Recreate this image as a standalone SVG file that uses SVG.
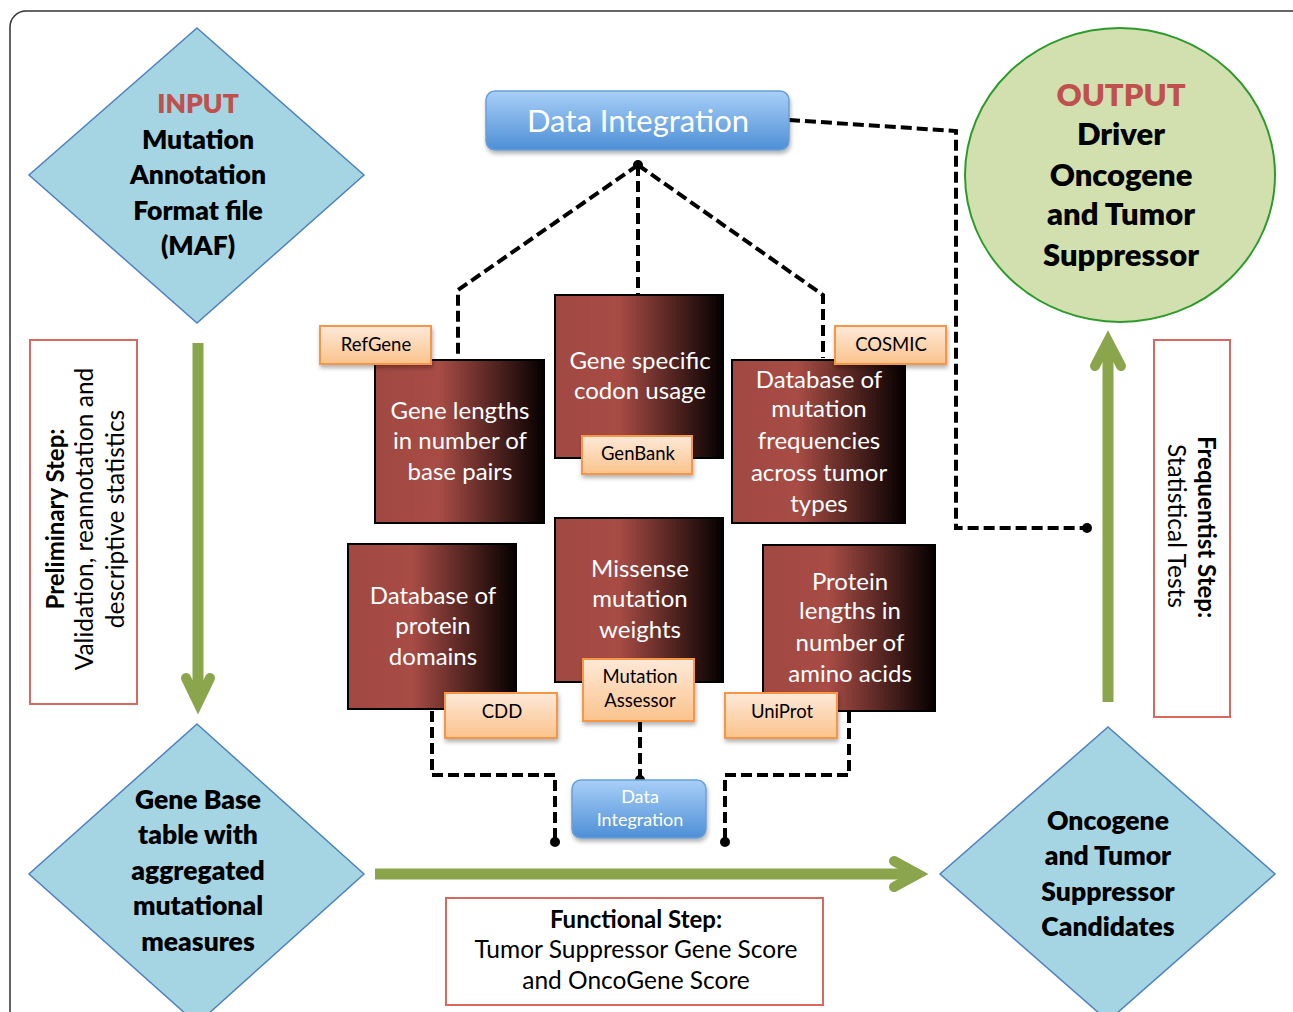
<svg xmlns="http://www.w3.org/2000/svg" width="1293" height="1012" viewBox="0 0 1293 1012">
<defs>
<linearGradient id="brown" x1="0" y1="0" x2="1" y2="0">
<stop offset="0" stop-color="#a04842"/>
<stop offset="0.38" stop-color="#a84c45"/>
<stop offset="1" stop-color="#050000"/>
</linearGradient>
<linearGradient id="blue" x1="0" y1="0" x2="0" y2="1">
<stop offset="0" stop-color="#a8cff8"/>
<stop offset="1" stop-color="#4e8fd6"/>
</linearGradient>
<linearGradient id="peach" x1="0" y1="0" x2="0" y2="1">
<stop offset="0" stop-color="#fde9d8"/>
<stop offset="1" stop-color="#fbc38c"/>
</linearGradient>
<filter id="shadow" x="-10%" y="-10%" width="130%" height="140%">
<feDropShadow dx="1" dy="3" stdDeviation="2" flood-color="#000" flood-opacity="0.3"/>
</filter>
</defs>
<style>
.diamond{fill:#a5d5e3;stroke:#4f81bd;stroke-width:1.5}
.bt{font-family:Lato,"Open Sans",sans-serif;font-weight:800;font-size:26.5px;fill:#000;text-anchor:middle}
.ct{font-size:31px}
.red{fill:#c0504d}
.brownbox{fill:url(#brown);stroke:#000;stroke-width:2}
.wt{font-family:Lato,"Open Sans",sans-serif;font-size:24px;fill:#fff;text-anchor:middle}
.lbl{fill:url(#peach);stroke:#f79646;stroke-width:2;filter:url(#shadow)}
.lt{font-family:Lato,"Open Sans",sans-serif;font-size:18.5px;fill:#000;text-anchor:middle}
.bluebox{fill:url(#blue);stroke:#6a9fd8;stroke-width:1.5;filter:url(#shadow)}
.it{font-family:Lato,"Open Sans",sans-serif;fill:#fff;text-anchor:middle}
.dash{fill:none;stroke:#000;stroke-width:4;stroke-dasharray:11 5}
.green{fill:none;stroke:#8aa54b;stroke-width:11}
.chev{fill:none;stroke:#8aa54b;stroke-width:10;stroke-linecap:round;stroke-linejoin:miter}
.redbox{fill:#fff;stroke:#d9685f;stroke-width:2}
.st{font-family:Lato,"Open Sans",sans-serif;font-size:24.5px;fill:#000;text-anchor:middle}
.stb{font-family:Lato,"Open Sans",sans-serif;font-size:24px;font-weight:bold;fill:#000;text-anchor:middle}
</style>
<rect x="10" y="11" width="1300" height="1030" rx="16" fill="#fff" stroke="#333" stroke-width="1.5"/>

<g id="connectors">
<path class="dash" d="M638,165 L458,290 L458,356"/>
<path class="dash" d="M638,165 L638,295"/>
<path class="dash" d="M638,165 L823,295 L823,358"/>
<path class="dash" d="M789,120 L956,131 L956,528 L1087,528"/>
<path class="dash" d="M432,711 L432,775 L555,775 L555,842"/>
<path class="dash" d="M640,721 L640,780"/>
<path class="dash" d="M849,712 L849,775 L725,775 L725,842"/>
<circle cx="638" cy="165" r="5"/>
<circle cx="1087" cy="528" r="5"/>
<circle cx="640" cy="780" r="5"/>
<circle cx="555" cy="842" r="5"/>
<circle cx="725" cy="842" r="5"/>
<line class="green" x1="198" y1="343" x2="198" y2="700"/>
<polyline class="chev" points="186,678 198,703 210,678"/>
<line class="green" x1="1108" y1="702" x2="1108" y2="345"/>
<polyline class="chev" points="1095,366 1108,341 1121,366"/>
<line class="green" x1="375" y1="874" x2="914" y2="874"/>
<polyline class="chev" points="894,861 918,874 894,887"/>
</g>

<g id="input">
<polygon class="diamond" points="197,28 364,175 197,323 29,175"/>
<text class="bt red" x="198" y="113">INPUT</text>
<text class="bt" x="198" y="149">Mutation</text>
<text class="bt" x="198" y="184">Annotation</text>
<text class="bt" x="198" y="220">Format file</text>
<text class="bt" x="198" y="255">(MAF)</text>
</g>

<g id="data-integration">
<rect class="bluebox" x="486" y="91" width="303" height="59" rx="9"/>
<text class="it" x="638" y="132" font-size="31">Data Integration</text>
</g>

<g id="output">
<ellipse cx="1120" cy="175" rx="155" ry="147" fill="#d1e0ae" stroke="#2e9a2e" stroke-width="2"/>
<text class="bt ct red" x="1121" y="106">OUTPUT</text>
<text class="bt ct" x="1121" y="145">Driver</text>
<text class="bt ct" x="1121" y="186">Oncogene</text>
<text class="bt ct" x="1121" y="225">and Tumor</text>
<text class="bt ct" x="1121" y="266">Suppressor</text>
</g>

<g id="gene-lengths">
<rect class="brownbox" x="375" y="360" width="169" height="163"/>
<text class="wt" x="460" y="419">Gene lengths</text>
<text class="wt" x="460" y="449">in number of</text>
<text class="wt" x="460" y="480">base pairs</text>
</g>
<g id="codon-usage">
<rect class="brownbox" x="555" y="295" width="168" height="163"/>
<text class="wt" x="640" y="369">Gene specific</text>
<text class="wt" x="640" y="399">codon usage</text>
</g>
<g id="mutation-frequencies">
<rect class="brownbox" x="732" y="360" width="173" height="163"/>
<text class="wt" x="819" y="388">Database of</text>
<text class="wt" x="819" y="417">mutation</text>
<text class="wt" x="819" y="449">frequencies</text>
<text class="wt" x="819" y="481">across tumor</text>
<text class="wt" x="819" y="512">types</text>
</g>
<g id="protein-domains">
<rect class="brownbox" x="348" y="544" width="168" height="165"/>
<text class="wt" x="433" y="604">Database of</text>
<text class="wt" x="433" y="634">protein</text>
<text class="wt" x="433" y="665">domains</text>
</g>
<g id="missense-weights">
<rect class="brownbox" x="555" y="518" width="168" height="164"/>
<text class="wt" x="640" y="577">Missense</text>
<text class="wt" x="640" y="607">mutation</text>
<text class="wt" x="640" y="638">weights</text>
</g>
<g id="protein-lengths">
<rect class="brownbox" x="763" y="545" width="172" height="166"/>
<text class="wt" x="850" y="590">Protein</text>
<text class="wt" x="850" y="619">lengths in</text>
<text class="wt" x="850" y="651">number of</text>
<text class="wt" x="850" y="682">amino acids</text>
</g>

<g id="refgene">
<rect class="lbl" x="320" y="326" width="111" height="38"/>
<text class="lt" x="376" y="351">RefGene</text>
</g>
<g id="cosmic">
<rect class="lbl" x="835" y="326" width="111" height="38"/>
<text class="lt" x="891" y="351">COSMIC</text>
</g>
<g id="genbank">
<rect class="lbl" x="582" y="436" width="110" height="38"/>
<text class="lt" x="638" y="460">GenBank</text>
</g>
<g id="cdd">
<rect class="lbl" x="445" y="693" width="112" height="45"/>
<text class="lt" x="502" y="718">CDD</text>
</g>
<g id="mutation-assessor">
<rect class="lbl" x="583" y="659" width="111" height="62"/>
<text class="lt" x="640" y="683">Mutation</text>
<text class="lt" x="640" y="707">Assessor</text>
</g>
<g id="uniprot">
<rect class="lbl" x="725" y="693" width="112" height="45"/>
<text class="lt" x="782" y="718">UniProt</text>
</g>

<g id="data-integration-small">
<rect class="bluebox" x="572" y="780" width="134" height="58" rx="9"/>
<text class="it" x="640" y="803" font-size="18">Data</text>
<text class="it" x="640" y="826" font-size="18">Integration</text>
</g>

<g id="gene-base-table">
<polygon class="diamond" points="197,724 364,874 197,1024 29,874"/>
<text class="bt" x="198" y="809">Gene Base</text>
<text class="bt" x="198" y="844">table with</text>
<text class="bt" x="198" y="880">aggregated</text>
<text class="bt" x="198" y="915">mutational</text>
<text class="bt" x="198" y="951">measures</text>
</g>

<g id="candidates">
<polygon class="diamond" points="1108,727 1275,874 1108,1021 940,874"/>
<text class="bt" x="1108" y="830">Oncogene</text>
<text class="bt" x="1108" y="865">and Tumor</text>
<text class="bt" x="1108" y="901">Suppressor</text>
<text class="bt" x="1108" y="936">Candidates</text>
</g>

<g id="preliminary-step">
<rect class="redbox" x="30" y="340" width="107" height="364"/>
<text class="stb" transform="translate(64,519) rotate(-90)">Preliminary Step:</text>
<text class="st" transform="translate(93,519) rotate(-90)">Validation, reannotation and</text>
<text class="st" transform="translate(124,519) rotate(-90)">descriptive statistics</text>
</g>

<g id="frequentist-step">
<rect class="redbox" x="1154" y="340" width="76" height="377"/>
<text class="stb" transform="translate(1198,527) rotate(90)">Frequentist Step:</text>
<text class="st" transform="translate(1168,526) rotate(90)">Statistical Tests</text>
</g>

<g id="functional-step">
<rect class="redbox" x="446" y="898" width="377" height="107"/>
<text class="stb" x="636" y="928">Functional Step:</text>
<text class="st" x="636" y="958">Tumor Suppressor Gene Score</text>
<text class="st" x="636" y="989">and OncoGene Score</text>
</g>
</svg>
